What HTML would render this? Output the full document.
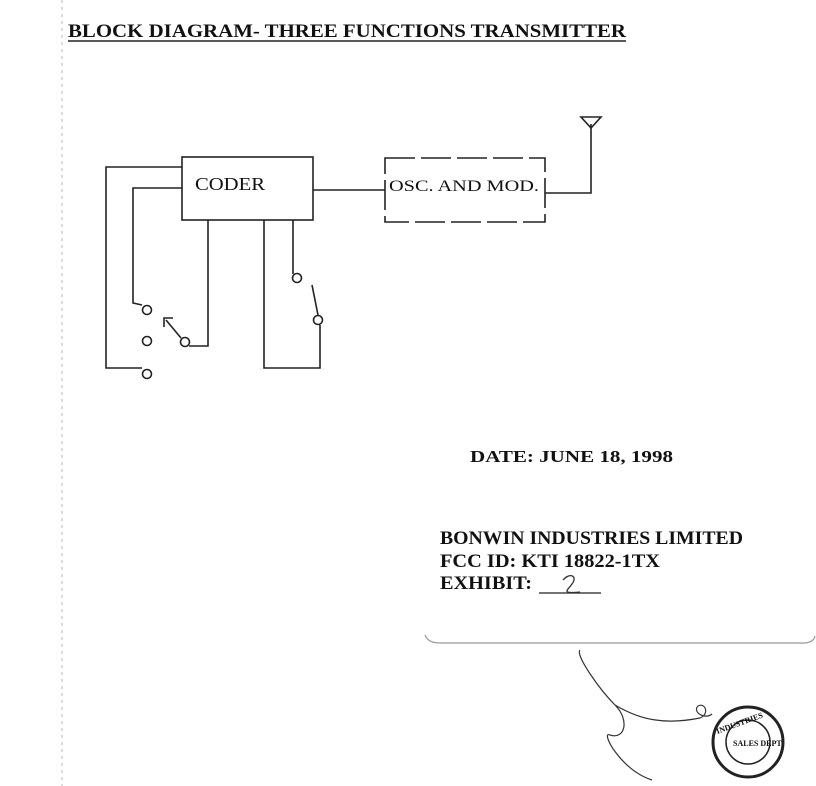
<!DOCTYPE html>
<html><head><meta charset="utf-8"><style>
html,body{margin:0;padding:0;background:#fff;}
svg{display:block;}
text{font-family:"Liberation Serif",serif;fill:#111;}
</style></head><body>
<svg width="816" height="786" viewBox="0 0 816 786" xmlns="http://www.w3.org/2000/svg">
<rect width="816" height="786" fill="#fff"/>
<line x1="62" y1="0" x2="62" y2="786" stroke="#bbb" stroke-width="1" stroke-dasharray="3,4"/>
<text x="68" y="37" font-size="19" font-weight="bold" textLength="558" lengthAdjust="spacingAndGlyphs">BLOCK DIAGRAM- THREE FUNCTIONS TRANSMITTER</text>
<line x1="68" y1="41" x2="626" y2="41" stroke="#222" stroke-width="1.5"/>
<g stroke="#222" stroke-width="1.6" fill="none">
<rect x="182" y="157" width="131" height="63"/>
<rect x="385" y="158" width="160" height="64" stroke-dasharray="30,6"/>
<polyline points="182,167 106,167 106,368 142,368"/>
<polyline points="182,188 133,188 133,303 142,305"/>
<polyline points="189,346 208,346 208,220"/>
<polyline points="264,220 264,368 320,368 320,325"/>
<polyline points="293,220 293,274"/>
<line x1="318" y1="315" x2="312" y2="285"/>
<line x1="313" y1="190" x2="385" y2="190"/>
<polyline points="545,193 591,193 591,124"/>
<polygon points="581,117 601,117 591,128"/>
<line x1="181" y1="338" x2="166" y2="320"/>
<polyline points="164,327 164,318 173,318"/>
<circle cx="147" cy="310" r="4.5" fill="#fff"/>
<circle cx="147" cy="341" r="4.5" fill="#fff"/>
<circle cx="147" cy="374" r="4.5" fill="#fff"/>
<circle cx="185" cy="342" r="4.5" fill="#fff"/>
<circle cx="297" cy="278" r="4.5" fill="#fff"/>
<circle cx="318" cy="320" r="4.5" fill="#fff"/>
</g>
<text x="195" y="190" font-size="18" textLength="70" lengthAdjust="spacingAndGlyphs">CODER</text>
<text x="389" y="191" font-size="16" textLength="150" lengthAdjust="spacingAndGlyphs">OSC. AND MOD.</text>
<text x="470" y="462" font-size="17" font-weight="bold" textLength="203" lengthAdjust="spacingAndGlyphs">DATE: JUNE 18, 1998</text>
<text x="440" y="544" font-size="19" font-weight="bold" textLength="303" lengthAdjust="spacingAndGlyphs">BONWIN INDUSTRIES LIMITED</text>
<text x="440" y="567" font-size="19" font-weight="bold" textLength="220" lengthAdjust="spacingAndGlyphs">FCC ID:  KTI 18822-1TX</text>
<text x="440" y="589" font-size="19" font-weight="bold" textLength="92" lengthAdjust="spacingAndGlyphs">EXHIBIT:</text>
<line x1="539" y1="593" x2="601" y2="593" stroke="#222" stroke-width="1.3"/>
<path d="M563,580 C570,572 578,576 572,584 C568,590 560,594 580,592" stroke="#333" stroke-width="1.3" fill="none"/>
<path d="M425,635 Q428,643 440,643 L805,643 Q814,642 815,636" stroke="#999" stroke-width="1.2" fill="none"/>
<path d="M580,650 C575,655 600,690 615,705 C630,720 625,740 610,735 C600,730 620,770 652,780 M615,705 C640,720 665,725 700,718 C710,714 705,702 698,706 C692,712 705,720 712,714" stroke="#333" stroke-width="1.2" fill="none"/>
<circle cx="748" cy="742" r="35" stroke="#222" stroke-width="3" fill="none"/>
<circle cx="748" cy="742" r="22" stroke="#222" stroke-width="1.5" fill="none"/>
<text x="733" y="746" font-size="8" font-weight="bold">SALES DEPT</text>
<text x="722" y="724" font-size="8" font-weight="bold" transform="rotate(-20 748 742)">INDUSTRIES</text>
</svg>
</body></html>
